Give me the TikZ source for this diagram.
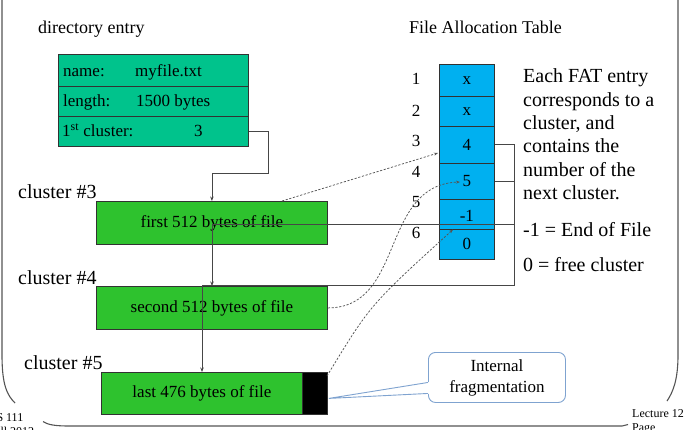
\documentclass[tikz,border=0pt]{standalone}
\usepackage{fontspec}
\setmainfont{Liberation Serif}
\usetikzlibrary{arrows.meta,calc}
\definecolor{dirfill}{RGB}{0,195,140}
\definecolor{clfill}{RGB}{46,194,46}
\definecolor{fatfill}{RGB}{0,176,240}
\definecolor{edgecol}{RGB}{50,50,50}
\definecolor{linkcol}{RGB}{70,70,70}
\definecolor{dashcol}{RGB}{85,85,85}
\definecolor{callcol}{RGB}{127,163,208}
\definecolor{framecol}{RGB}{85,85,85}
\newcommand\fsz[2]{\fontsize{#1}{#2}\selectfont}
\begin{document}
\begin{tikzpicture}[x=1pt,y=-1pt,
  cell/.style={draw=edgecol, line width=0.8pt, inner sep=0pt, anchor=north west},
  dirrow/.style={cell, fill=dirfill, minimum width=190pt},
  clbox/.style={cell, fill=clfill, font=\fsz{17}{20}},
  fatrow/.style={cell, fill=fatfill, minimum width=55pt, font=\fsz{17}{20}},
  txt/.style={inner sep=0pt, anchor=base west},
  dirtxt/.style={txt, font=\fsz{17}{20}},
  head/.style={txt, font=\fsz{18}{21}},
  cltxt/.style={txt, font=\fsz{20}{23}},
  expl/.style={txt, font=\fsz{20}{23}},
  rownum/.style={inner sep=0pt, font=\fsz{17}{20}},
  foot/.style={txt, font=\fsz{12}{14}},
  linkline/.style={draw=linkcol, line width=0.8pt},
  tipA/.style={-{Stealth[length=4.5pt,width=3.5pt]}},
  dashlink/.style={draw=dashcol, line width=0.75pt, dash pattern=on 2.2pt off 1.6pt, -{Stealth[length=4pt,width=3pt]}},
  framestyle/.style={draw=framecol, line width=1.1pt}
]
\useasboundingbox (0,0) rectangle (684,429);

% slide frame
\draw[framestyle] (2,-5) -- (2,355) .. controls (2,385) and (7,395) .. (15,403);
\draw[framestyle] (43,421.5) .. controls (48,425) and (56,426) .. (70,426) -- (622,426) -- (628,424.5);
\draw[framestyle] (678,-5) -- (678,355) .. controls (678,380) and (673,392) .. (667,401);

% headers
\node[head] (hdir) at (38,33) {directory entry};
\node[head] (hfat) at (409,33) {File Allocation Table};

% directory entry
\node[dirrow, minimum height=31.5pt] (d1) at (58,54) {};
\node[dirrow, minimum height=30pt] (d2) at (58,85.5) {};
\node[dirrow, minimum height=30.5pt] (d3) at (58,115.5) {};
\node[dirtxt] (d1a) at (63,76) {name:};
\node[dirtxt] (d1b) at (135,76) {myfile.txt};
\node[dirtxt] (d2a) at (63,106.7) {length:};
\node[dirtxt] (d2b) at (136,106.7) {1500 bytes};
\node[dirtxt] (d3a) at (62,136.7) {1\textsuperscript{st} cluster:};
\node[dirtxt] (d3b) at (194,136.7) {3};

% clusters
\node[cltxt] (l3) at (18,198) {cluster \#3};
\node[cltxt] (l4) at (18,284) {cluster \#4};
\node[cltxt] (l5) at (24,369) {cluster \#5};
\node[clbox, minimum width=231pt, minimum height=43pt] (c3) at (96,201) {first 512 bytes of file};
\node[clbox, minimum width=231pt, minimum height=43pt] (c4) at (96,286) {second 512 bytes of file};
\node[clbox, minimum width=201pt, minimum height=42pt] (c5) at (101,372) {last 476 bytes of file};
\node[cell, fill=black, minimum width=25pt, minimum height=42pt] (c5x) at (302,372) {};

% FAT
\node[fatrow, minimum height=32pt] (f1) at (439,64) {x};
\node[fatrow, minimum height=30pt] (f2) at (439,96) {x};
\node[fatrow, minimum height=36.5pt] (f3) at (439,126) {4};
\node[fatrow, minimum height=36.5pt] (f4) at (439,162.5) {5};
\node[fatrow, minimum height=30pt, text depth=0pt] (f5) at (439,199) {\raisebox{-2pt}{-1}};
\node[fatrow, minimum height=30pt] (f6) at (439,229) {0};
\node[rownum] (n1) at (416,79) {1};
\node[rownum] (n2) at (416,111) {2};
\node[rownum] (n3) at (416,141) {3};
\node[rownum] (n4) at (416,172) {4};
\node[rownum] (n5) at (416,202) {5};
\node[rownum] (n6) at (416,233) {6};

% explanation
\node[expl] (x1) at (523,82.7) {Each FAT entry};
\node[expl] (x2) at (523,106) {corresponds to a};
\node[expl] (x3) at (523,129.3) {cluster, and};
\node[expl] (x4) at (523,152.7) {contains the};
\node[expl] (x5) at (523,176) {number of the};
\node[expl] (x6) at (523,199.3) {next cluster.};
\node[expl] (x7) at (523,236) {-1 = End of File};
\node[expl] (x8) at (523,271.7) {0 = free cluster};

% solid links
\coordinate (j1) at (268,173);
\draw[linkline, tipA] (d3.east) -| (j1) -| (c3.north);
\coordinate (j2) at (514,224);
\coordinate (j3) at (212,224);
\draw[linkline, tipA] (f3.east) -| (j2) -- (j3) -- (j3 |- c4.north);
\coordinate (j4) at (514,285.5);
\coordinate (j5) at (202,285.5);
\draw[linkline, tipA] (f4.east) -| (j4) -- (j5) -- (j5 |- c5.north);

% dashed links
\coordinate (s1) at (282,201);
\coordinate (e1) at (438,153);
\draw[dashlink] (s1) -- (e1);
\coordinate (e2) at (460,182);
\draw[dashlink] (c4.east) .. controls (405,308) and (380,185) .. (e2);
\coordinate (s3) at (327,376);
\coordinate (e3) at (453,229.5);
\draw[dashlink] (s3) .. controls (370,305) .. (e3);

% callout
\node[draw=callcol, line width=0.9pt, rounded corners=7pt, fill=white, minimum width=137pt, minimum height=50pt, anchor=north west, inner sep=0pt, align=center, font=\fsz{17}{21}] (cb) at (428,352) {Internal\\fragmentation};
\coordinate (tip) at ($(c5x.east)+(1,5)$);
\fill[white] (tip) -- ($(cb.west)+(1.2,4.5)$) -- ($(cb.west)+(1.2,16.5)$) -- cycle;
\draw[draw=callcol, line width=0.9pt] ($(cb.west)+(0,5)$) -- (tip) -- ($(cb.west)+(0,16)$);

% footer
\node[foot] (ft1) at (-11.7,421) {CS 111};
\node[foot] (ft2) at (-11.7,435) {Fall 2012};
\node[foot] (ft3) at (632,417) {Lecture 12};
\node[foot] (ft4) at (632,431) {Page};
\end{tikzpicture}
\end{document}
